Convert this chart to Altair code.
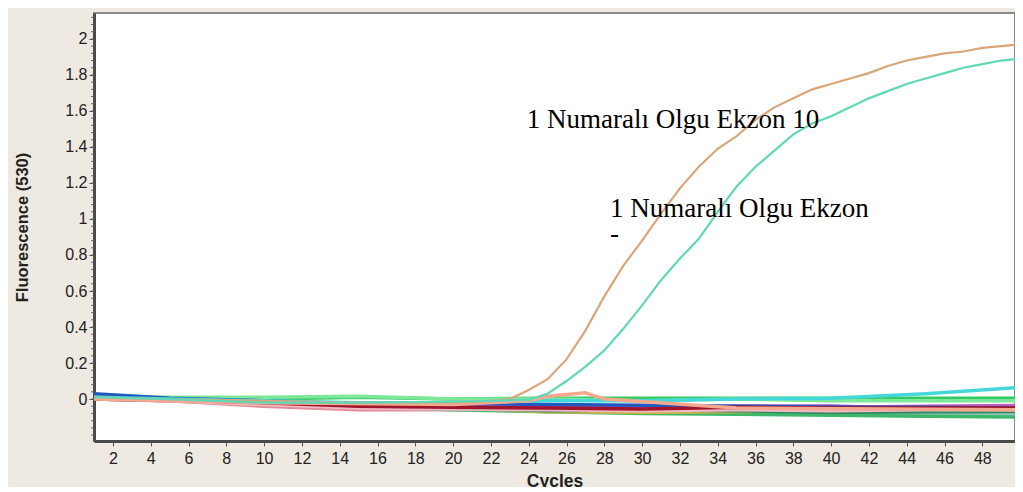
import altair as alt
import pandas as pd
import numpy as np

# ---- data -------------------------------------------------------------
orange_cycles = [1, 5, 10, 15, 20, 22, 23, 24, 25, 26, 27, 28, 29, 30, 31, 32, 33, 34, 35, 36,
                 37, 38, 39, 40, 41, 42, 43, 44, 45, 46, 47, 48, 49, 50]
orange_values = [0.01, 0.0, -0.01, -0.02, -0.02, -0.01, 0.0, 0.05, 0.11, 0.22, 0.38, 0.57, 0.74,
                 0.88, 1.03, 1.17, 1.29, 1.39, 1.46, 1.55, 1.62, 1.67, 1.72, 1.75, 1.78, 1.81,
                 1.85, 1.88, 1.90, 1.92, 1.93, 1.95, 1.96, 1.97]

teal_cycles = [1, 5, 10, 15, 20, 24, 25, 26, 27, 28, 29, 30, 31, 32, 33, 34, 35, 36, 37, 38,
               39, 40, 41, 42, 43, 44, 45, 46, 47, 48, 49, 50]
teal_values = [0.01, 0.0, -0.02, -0.02, -0.015, -0.005, 0.03, 0.10, 0.18, 0.27, 0.39, 0.52, 0.66,
               0.78, 0.89, 1.04, 1.18, 1.29, 1.38, 1.47, 1.53, 1.57, 1.62, 1.67, 1.71, 1.75,
               1.78, 1.81, 1.84, 1.86, 1.88, 1.89]

base_cycles = [1, 5, 10, 15, 20, 25, 30, 35, 40, 45, 50]
base_series = {
    "g1":  [0.01, 0.005, 0.0, 0.01, 0.0, 0.005, 0.005, 0.005, 0.005, 0.005, 0.005],
    "g2":  [0.01, 0.0, -0.01, -0.03, -0.04, -0.045, -0.05, -0.05, -0.055, -0.06, -0.06],
    "r1":  [0.0, -0.005, -0.03, -0.04, -0.05, -0.05, -0.06, -0.05, -0.06, -0.06, -0.055],
    "p1":  [0.0, -0.01, -0.04, -0.06, -0.06, -0.05, -0.07, -0.07, -0.07, -0.07, -0.065],
    "pu":  [0.01, -0.005, -0.02, -0.03, -0.03, -0.04, -0.045, -0.04, -0.04, -0.05, -0.04],
    "nv":  [0.02, 0.0, -0.02, -0.04, -0.03, -0.045, -0.05, -0.055, -0.05, -0.05, -0.05],
    "lt":  [0.0, -0.01, -0.02, -0.03, -0.05, -0.06, -0.07, -0.08, -0.08, -0.085, -0.09],
    "g3":  [0.005, -0.005, -0.02, -0.04, -0.06, -0.07, -0.08, -0.085, -0.09, -0.095, -0.10],
    "mr":  [0.01, 0.0, -0.02, -0.045, -0.04, -0.055, -0.06, -0.055, -0.055, -0.05, -0.045],
    "ol":  [0.0, -0.01, -0.03, -0.04, -0.05, -0.07, -0.075, -0.07, -0.06, -0.065, -0.06],
    "gy":  [0.0, -0.005, -0.02, -0.03, -0.04, -0.05, -0.06, -0.06, -0.05, -0.055, -0.05],
    "lg":  [0.02, 0.01, 0.01, 0.015, 0.0, 0.0, -0.01, 0.0, -0.01, -0.01, -0.01],
    "mg":  [0.0, -0.01, -0.025, -0.035, -0.035, -0.04, -0.04, -0.045, -0.045, -0.04, -0.035],
    "bl":  [0.03, 0.005, -0.01, -0.03, -0.025, -0.03, -0.035, -0.04, -0.045, -0.045, -0.05],
    "dt":  [0.005, -0.005, -0.02, -0.035, -0.05, -0.065, -0.06, -0.065, -0.075, -0.07, -0.07],
    "lp":  [0.0, -0.01, -0.03, -0.05, -0.055, -0.06, -0.065, -0.06, -0.065, -0.06, -0.06],
    "cr":  [0.0, -0.005, -0.02, -0.04, -0.045, -0.05, -0.055, -0.045, -0.05, -0.05, -0.05],
    "cy":  [0.01, 0.0, -0.01, -0.02, -0.02, -0.01, -0.01, 0.0, 0.005, 0.03, 0.065],
}
base_colors = ["#35C963", "#0B6B2E", "#C8203C", "#E48A98", "#5E1A9E", "#1F3F8A", "#8FC9C4",
               "#3DB86A", "#4A0C14", "#C9B24A", "#9A9A9A", "#7EE89A", "#C05CC0", "#2058C0",
               "#2E8B60", "#F2B8C6", "#A0142C", "#45D8D8"]

salmon_cycles = [1, 10, 20, 24, 25, 27, 28, 35, 50]
salmon_values = [0.0, -0.02, -0.03, -0.01, 0.015, 0.035, 0.0, -0.05, -0.06]

labels_text = ["1 Numaralı Olgu Ekzon 10", "1 Numaralı Olgu Ekzon", "-"]
labels_x = [23.9, 28.3, 28.3]
labels_y = [1.506, 1.011, 0.872]

y_ticks = [0, 0.2, 0.4, 0.6, 0.8, 1, 1.2, 1.4, 1.6, 1.8, 2]
x_ticks = list(range(2, 51, 2))

# ---- tables -----------------------------------------------------------
rows = []
for name, vals in base_series.items():
    for c, v in zip(base_cycles, vals):
        rows.append({"series": name, "cycle": c, "value": v})
for c, v in zip(salmon_cycles, salmon_values):
    rows.append({"series": "salmon", "cycle": c, "value": v})
base_df = pd.DataFrame(rows)
base_names = list(base_series.keys()) + ["salmon"]
base_cols = base_colors + ["#F4A890"]

curve_rows = []
for c, v in zip(orange_cycles, orange_values):
    curve_rows.append({"series": "orange", "cycle": c, "value": v})
for c, v in zip(teal_cycles, teal_values):
    curve_rows.append({"series": "teal", "cycle": c, "value": v})
curve_df = pd.DataFrame(curve_rows)

label_df = pd.DataFrame({"x": labels_x, "y": labels_y, "t": labels_text})
minor_df = pd.DataFrame({"v": [round(v, 2) for v in np.arange(-0.2, 2.13, 0.04)]})

# ---- chart ------------------------------------------------------------
xs = alt.Scale(domain=[1, 49.73], nice=False, zero=False)
ys = alt.Scale(domain=[-0.233, 2.144], nice=False, zero=False)

x_axis = alt.Axis(values=x_ticks, title="Cycles", grid=False, labelFont="Liberation Sans",
                  labelFontSize=16, labelColor="#222222", tickSize=5, tickColor="#555555",
                  labelPadding=4, labelOverlap=False, labelFlush=False,
                  domainColor="#4a4a4a", domainWidth=3,
                  titleFont="Liberation Sans", titleFontSize=17.5, titleFontWeight="bold",
                  titleColor="#222222", titleBaseline="alphabetic", titleY=45)
y_axis = alt.Axis(values=y_ticks, title="Fluorescence (530)", grid=False, format="~g",
                  labelFont="Liberation Sans", labelFontSize=16, labelColor="#222222",
                  labelOverlap=False, labelFlush=False,
                  tickSize=5, tickColor="#555555", labelPadding=2,
                  domainColor="#4a4a4a", domainWidth=3,
                  titleFont="Liberation Sans", titleFontSize=16.5, titleFontWeight="bold",
                  titleColor="#222222", titleX=-64, titleY=214)

base_layer = alt.Chart(base_df).mark_line(strokeWidth=3.5, clip=True).encode(
    x=alt.X("cycle:Q", scale=xs, axis=x_axis),
    y=alt.Y("value:Q", scale=ys, axis=y_axis),
    color=alt.Color("series:N", scale=alt.Scale(domain=base_names, range=base_cols), legend=None),
    detail="series:N",
)

curve_layer = alt.Chart(curve_df).mark_line(strokeWidth=2.2, clip=True).encode(
    x=alt.X("cycle:Q", scale=xs),
    y=alt.Y("value:Q", scale=ys),
    color=alt.Color("series:N", scale=alt.Scale(domain=["orange", "teal"],
                                                range=["#D9A679", "#5ED8B6"]), legend=None),
)

minor_layer = alt.Chart(minor_df).mark_rule(color="#666666", strokeWidth=1).encode(
    y=alt.Y("v:Q", scale=ys),
    x=alt.value(-3),
    x2=alt.value(0),
)

text_layer = alt.Chart(label_df).mark_text(align="left", baseline="alphabetic",
                                           font="Liberation Serif", fontSize=27,
                                           color="#000000").encode(
    x=alt.X("x:Q", scale=xs),
    y=alt.Y("y:Q", scale=ys),
    text="t:N",
)

chart = alt.layer(base_layer, curve_layer, minor_layer, text_layer).resolve_scale(
    color="independent"
).properties(
    width=921, height=428,
    background="#EEE9E1",
    padding={"left": 86, "top": 5, "right": 0, "bottom": 46},
    autosize=alt.AutoSizeParams(type="none"),
).configure_view(fill="white", stroke="#8c8c8c", strokeWidth=2)

chart.save("out.html", embed_options={"renderer": "svg", "actions": False})
